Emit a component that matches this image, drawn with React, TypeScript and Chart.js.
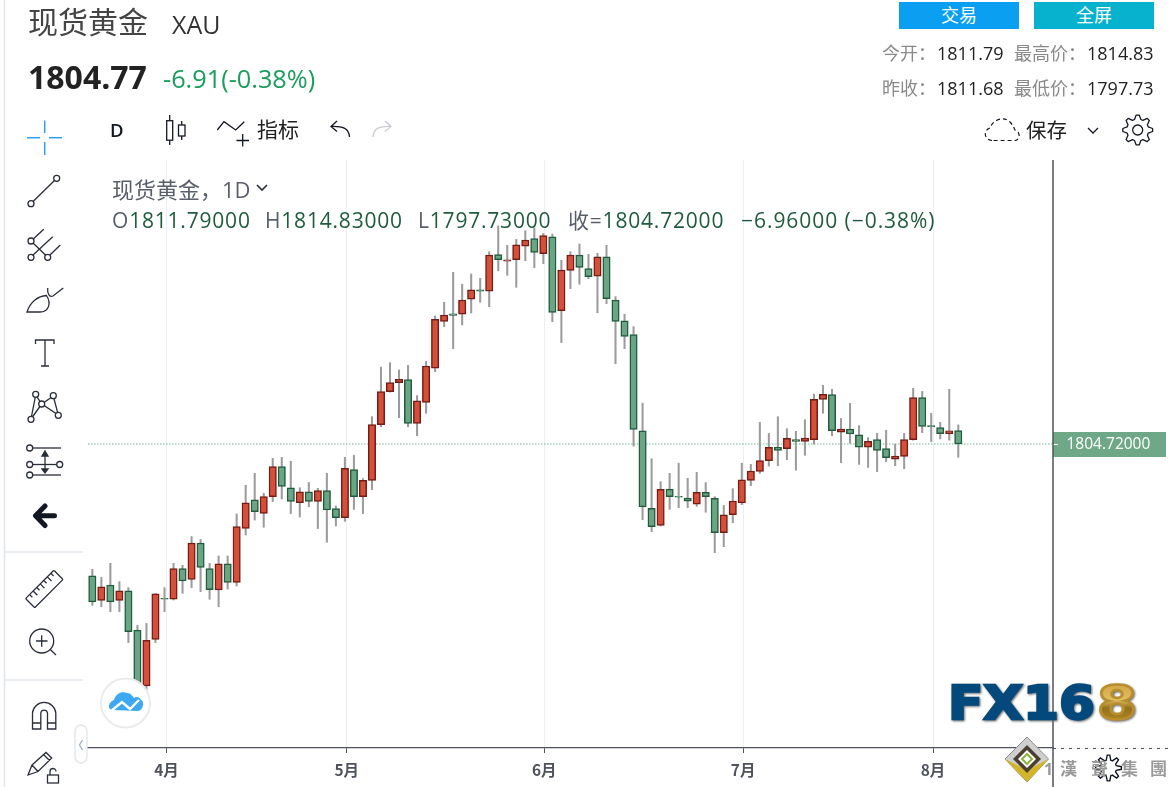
import React, { useEffect, useRef } from "react";
import { Chart, registerables } from "chart.js";

Chart.register(...registerables);

const highs = [1738.8,1734.5,1741.9,1732.3,1729.1,1709.3,1710.3,1726,1729.1,1741.9,1740.9,1756,1754.5,1741.9,1745.8,1745.8,1767.9,1783,1789.3,1778.8,1797.2,1797.7,1795.6,1781.7,1784.5,1781.4,1789.3,1772.1,1797.7,1798.8,1786.5,1819.1,1845.2,1847.5,1843.7,1846.1,1830.2,1848.2,1872.1,1879.3,1895.1,1888.8,1894.2,1891.9,1905.9,1919.5,1909.3,1912.4,1917,1918.4,1915.6,1915.2,1901.4,1905.9,1910,1904.5,1905.1,1909.3,1882.3,1873,1866.5,1826.2,1797,1784.9,1789.3,1794.6,1786.7,1789.8,1784.4,1777,1772.4,1781.2,1794.6,1794,1816.1,1810.3,1819.1,1812.8,1811.4,1817.5,1831,1835.6,1833.5,1818.2,1826.1,1814.4,1808.1,1810.3,1811.9,1804.7,1810.3,1834,1832.4,1820.9,1816.1,1833.5,1814.83];
const opens = [1735.4,1722.4,1730.5,1722.4,1727.4,1706.8,1677.4,1701.9,1723.5,1723.1,1739.1,1733.5,1752.6,1739.1,1727.9,1741.6,1731.9,1760.3,1775.4,1768.2,1777,1792.8,1781.7,1773.8,1779.5,1774.5,1780.2,1770.7,1766,1791.2,1777,1785.6,1814.9,1832.3,1837,1838.6,1815.6,1826.6,1844.7,1869.3,1873.3,1873.1,1881,1885.9,1885.1,1904.4,1901,1901.7,1908.8,1912.8,1904.9,1913.8,1874.9,1896.1,1904.2,1897,1893,1903.3,1880.5,1869.5,1862.3,1811.7,1770.9,1761.9,1781,1777.2,1776.3,1773,1779.3,1776.1,1758.1,1767.5,1773.7,1785.6,1790.3,1796,1803,1802.3,1807,1806.1,1807,1828.2,1830.7,1810.9,1812.6,1809.5,1803,1807,1802.3,1796.7,1798.2,1807,1829.1,1814.4,1813.3,1810.2,1811.79];
const closes = [1721.6,1729.6,1721.6,1727.4,1705.9,1678.4,1701.4,1725.8,1723,1739.1,1732.6,1752.6,1739.8,1728.1,1741.6,1731.9,1761.2,1773.8,1769.1,1777,1792.8,1782.4,1774.5,1779.5,1774.5,1780.2,1770,1766,1791.9,1777,1785.6,1814.9,1832.3,1837,1838.8,1815.6,1827.5,1845.8,1870.3,1872.6,1872.4,1880.5,1885.9,1885.1,1904.2,1901.7,1901.7,1909.6,1912.1,1905.6,1914.4,1874,1896.3,1904.2,1897.7,1892.8,1903.3,1881.2,1869.3,1861.4,1812.4,1771.6,1761.2,1780.9,1777,1776.8,1774.6,1779.3,1777,1758.1,1767.5,1774.7,1785.8,1790.5,1796,1803,1801.4,1807.7,1806.1,1807.9,1828.2,1830.9,1811.7,1812.6,1810,1803,1806.1,1801.4,1797.5,1798.4,1807,1829.1,1814,1813.9,1810.2,1811.7,1804.72];
const lows = [1719.8,1719.1,1716.5,1716.5,1700.2,1676.1,1674.4,1700.2,1716.5,1722.6,1726.1,1729.1,1727,1723,1719.1,1728.4,1730,1756.8,1764.7,1760.9,1774.4,1775.8,1768.1,1766.3,1771.7,1760.2,1753,1761.6,1764,1770.3,1768.1,1780.7,1813.8,1832,1818.6,1813.8,1809.1,1820.9,1842.8,1866.5,1854.9,1867.4,1873.7,1879.3,1877,1895.9,1893.5,1887.2,1901.2,1897.5,1899.6,1869.1,1858.1,1886.5,1888.8,1891.7,1873.8,1878.6,1847,1854.9,1803.6,1764.9,1758.6,1761.6,1770.3,1771.2,1771.2,1771.9,1768.8,1747.5,1750.7,1763.3,1772.8,1782.8,1789.3,1793.1,1793.3,1796.5,1790.9,1798.8,1804.7,1820.9,1809.1,1794.9,1805.1,1794,1792.4,1790.2,1795.4,1793.3,1791.7,1806.7,1810.7,1806,1807.4,1806.7,1797.73];

const monthTicks = [8.22, 28.2, 50.1, 72.15, 93.2];
const monthLabels = ["4月", "5月", "6月", "7月", "8月"];
const lastPrice = 1804.72;
const lastLabel = "1804.72000";

const cjk = "'Open Sans','Noto Sans CJK SC',sans-serif";

type TP = { x: number; y: number; s: number; c?: string; w?: number; children: React.ReactNode; style?: React.CSSProperties };
function T({ x, y, s, c = "#333", w = 400, children, style }: TP) {
  return (
    <div style={{ position: "absolute", left: x, top: y - s * 0.7, fontSize: s, lineHeight: `${s * 1.4}px`, color: c, fontWeight: w, whiteSpace: "pre", fontFamily: cjk, ...style }}>
      {children}
    </div>
  );
}

function gearPath(cx: number, cy: number, r1: number, r2: number, teeth: number) {
  let d = "";
  const n = teeth * 4;
  for (let k = 0; k < n; k++) {
    const a = ((k - 0.5) / n) * Math.PI * 2;
    const r = k % 4 === 0 || k % 4 === 1 ? r1 : r2;
    d += `${k === 0 ? "M" : "L"}${(cx + r * Math.cos(a)).toFixed(1)} ${(cy + r * Math.sin(a)).toFixed(1)}`;
  }
  return d + "Z";
}

function Icons() {
  const ink = "#2a2e39";
  const p = { fill: "none", stroke: ink, strokeWidth: 1.3 } as const;
  return (
    <svg width={1169} height={787} style={{ position: "absolute", left: 0, top: 0, pointerEvents: "none" }}>
      <defs>
        <linearGradient id="gold" x1="0" y1="0" x2="0" y2="1">
          <stop offset="0" stopColor="#c79a35" />
          <stop offset="0.45" stopColor="#e3bd62" />
          <stop offset="0.6" stopColor="#93701c" />
          <stop offset="1" stopColor="#c3962f" />
        </linearGradient>
      </defs>
      {/* frame */}
      <line x1={4.5} y1={0} x2={4.5} y2={787} stroke="#dfe5ec" strokeWidth={1.5} />
      <line x1={5} y1={552} x2={83} y2={552} stroke="#e3e8ee" strokeWidth={1.5} />
      <line x1={5} y1={680} x2={83} y2={680} stroke="#e3e8ee" strokeWidth={1.5} />
      <line x1={1053} y1={160} x2={1053} y2={787} stroke="#50535e" strokeWidth={1.5} />
      <line x1={1053} y1={748.5} x2={1169} y2={748.5} stroke="#50535e" strokeWidth={1} strokeDasharray="3 5" />
      {/* crosshair */}
      <g stroke="#2f9ef0" strokeWidth={1.5}>
        <line x1={44.7} y1={120.5} x2={44.7} y2={133} />
        <line x1={44.7} y1={142} x2={44.7} y2={155} />
        <line x1={27} y1={137.7} x2={40} y2={137.7} />
        <line x1={49} y1={137.7} x2={62} y2={137.7} />
      </g>
      {/* trend line */}
      <g {...p}>
        <line x1={33} y1={201.5} x2={54.5} y2={180.5} />
        <circle cx={31} cy={203.7} r={3} />
        <circle cx={56.7} cy={178.3} r={3} />
      </g>
      {/* pitchfork */}
      <g {...p}>
        <circle cx={31} cy={241} r={3} />
        <circle cx={31} cy={257.3} r={3} />
        <circle cx={47.7} cy={257.3} r={3} />
        <line x1={33.3} y1={239} x2={43.7} y2={229.3} />
        <line x1={32.5} y1={255.5} x2={52.7} y2={236.7} />
        <line x1={50} y1={255} x2={60.3} y2={245} />
        <line x1={33} y1={243} x2={46} y2={255.5} />
      </g>
      {/* brush */}
      <g {...p}>
        <path d="M27 312 C30 302 38 296 46.5 295.5 C52 304 48 312 40 312 Z" />
        <path d="M47.7 288 C47 294 50 297.5 53 296 L63.3 288" />
      </g>
      {/* T */}
      <g {...p}>
        <path d="M35.5 344 V340 H54 V344 M45 340 V366 M41 366 H49" />
      </g>
      {/* pattern */}
      <g {...p}>
        <path d="M31 419 L35.7 395 L41.7 404 L53.3 396 L58.3 415 L41.7 404 L31 419" />
        <circle cx={31} cy={419.3} r={3} fill="#fff" />
        <circle cx={58.3} cy={415.3} r={3} fill="#fff" />
        <circle cx={41.7} cy={404} r={3} fill="#fff" />
        <circle cx={35.7} cy={394.3} r={3} fill="#fff" />
        <circle cx={53.3} cy={395.7} r={3} fill="#fff" />
      </g>
      {/* fib */}
      <g {...p}>
        <line x1={33} y1={448} x2={61} y2={448} />
        <line x1={33} y1={464.5} x2={57} y2={464.5} />
        <line x1={33} y1={475} x2={61} y2={475} />
        <circle cx={29.7} cy={448} r={3} />
        <circle cx={29.7} cy={464.5} r={3} />
        <circle cx={59.7} cy={464.5} r={3} />
        <circle cx={29.7} cy={475} r={3} />
        <line x1={45} y1={453} x2={45} y2={472} />
        <path d="M42 456 L45 451 L48 456 Z M42 469 L45 473 L48 469 Z" fill={ink} />
      </g>
      {/* back arrow */}
      <path d="M54.5 515.7 H36 M45 506 L35.5 515.7 L45 525.5" fill="none" stroke="#131722" strokeWidth={5} strokeLinecap="round" strokeLinejoin="round" />
      {/* ruler */}
      <g {...p} transform="rotate(-45 44.3 589)">
        <rect x={24.3} y={582.5} width={40} height={13} rx={1} />
        <path d="M30 582.5 v4 M35 582.5 v6 M40 582.5 v4 M45 582.5 v6 M50 582.5 v4 M55 582.5 v6 M60 582.5 v4" />
      </g>
      {/* zoom */}
      <g {...p}>
        <circle cx={41.7} cy={641} r={12} />
        <path d="M36 641 H47.5 M41.7 635.2 V646.8 M50.5 649.8 L56 655" />
      </g>
      {/* magnet */}
      <g {...p}>
        <path d="M32.5 729 V713 A11.7 11.7 0 0 1 55.8 713 V729 H47.5 V713 A3.4 3.4 0 0 0 40.8 713 V729 Z" />
        <path d="M32.5 723 H40.8 M47.5 723 H55.8" />
      </g>
      {/* pencil + lock */}
      <g {...p}>
        <path d="M28 775 L32 765 L46 752.5 L51.7 758 L38 771.5 Z M32 765 L38 771.5 M44 755 L49.5 760.5" />
        <rect x={47.5} y={775} width={11} height={8} />
        <path d="M50 775 V771.5 A3 3 0 0 1 56 771.5" />
      </g>
      {/* candle icon */}
      <g {...p} stroke="#131722">
        <rect x={166.7} y={120.7} width={6} height={19.5} />
        <path d="M169.7 115 V120.7 M169.7 140.2 V145" />
        <rect x={178.5} y={125} width={6.5} height={11} />
        <path d="M181.7 121 V125 M181.7 136 V140" />
      </g>
      {/* indicators */}
      <g {...p} stroke="#131722">
        <path d="M217.3 130 L224 121.7 L235.7 130 L244.3 121.7" />
        <path d="M236.5 140.5 H249 M242.7 134 V146.5" />
      </g>
      {/* undo / redo */}
      <path d="M349.5 137 C349 128 342 126 331 126.5 M337 121 L331 126.5 L337 131.5" fill="none" stroke="#131722" strokeWidth={1.3} />
      <path d="M373 137 C373.5 128 380 126 391 126.5 M385 121 L391 126.5 L385 131.5" fill="none" stroke="#c9cbd0" strokeWidth={1.3} />
      {/* save cloud */}
      <path d="M992 140.5 C984 140 983 130 990 128 C992 121 1003 115 1010 122 C1013 125 1014 128 1015 130 C1021 132 1020 140 1015 140.5 Z" fill="none" stroke="#131722" strokeWidth={1.2} strokeDasharray="4 3" />
      {/* chevrons */}
      <path d="M1088 128 L1093 133 L1098 128" fill="none" stroke="#131722" strokeWidth={1.3} />
      <path d="M257 185 L262 190 L267 185" fill="none" stroke="#2a2e39" strokeWidth={1.6} />
      {/* settings */}
      <path d={gearPath(1137.7, 130, 15, 11, 8)} fill="none" stroke="#131722" strokeWidth={1.3} strokeLinejoin="round" />
      <circle cx={1137.7} cy={130} r={5} fill="none" stroke="#131722" strokeWidth={1.3} />
      {/* collapse handle */}
      <rect x={75} y={725} width={12} height={38} rx={6} fill="#fff" stroke="#dfe5ea" strokeWidth={1.3} />
      <path d="M82.5 740 L79.5 745 L82.5 750" fill="none" stroke="#9db0bf" strokeWidth={1.3} />
      {/* cloud badge */}
      <circle cx={125.5} cy={703} r={24.5} fill="#fff" stroke="#ebebeb" strokeWidth={2} />
      <path d="M113 710 C107 710 108 702 114 700 C116 693 122 691 127 693 C130 693 132 695 134 698 C136 696 140 697 141 700 C145 701 143 711 138 711 Z" fill="#3aa9f2" />
      <path d="M111 711 L122 702 L130 709 L139 700" fill="none" stroke="#fff" strokeWidth={2.4} />
      {/* FX168 */}
      <g style={{ filter: "drop-shadow(1px 1px 1px #666)" }}>
        <text x={948} y={719} fontFamily="'DejaVu Sans',sans-serif" fontWeight={700} fontSize={47} fill="#04497c" stroke="#04497c" strokeWidth={2.4} textLength={147} lengthAdjust="spacingAndGlyphs">FX16</text>
        <text x={1097} y={719} fontFamily="'DejaVu Sans',sans-serif" fontWeight={700} fontSize={47} fill="url(#gold)" stroke="#b98f2c" strokeWidth={2.4} textLength={40} lengthAdjust="spacingAndGlyphs">8</text>
      </g>
      {/* diamond */}
      <path d="M1027 737 L1048.5 759 L1027 782 L1005 759 Z" fill="#cfcfcf" stroke="#8d8d8d" />
      <path d="M1005 759 L1027 782 L1048.5 759 L1027 770 Z" fill="#d3b52a" />
      <path d="M1027 745 L1041 759 L1027 773 L1013 759 Z" fill="#4a3f30" />
      <path d="M1027 750 L1036 759 L1027 768 L1018 759 Z" fill="#fff" />
      <path d="M1027 754 L1032 759 L1027 764 L1022 759 Z" fill="none" stroke="#8cb33a" strokeWidth={2} />
      {/* small gear */}
      <path d={gearPath(1108.5, 768, 13, 8, 8)} fill="none" stroke="#131722" strokeWidth={1.4} />
      <circle cx={1108.5} cy={768} r={7} fill="#fff" />
    </svg>
  );
}

export default function App() {
  const ref = useRef<HTMLCanvasElement | null>(null);
  useEffect(() => {
    if (!ref.current) return;
    const xMin = -0.48;
    const xMax = 106.5;
    const tagPlugin = {
      id: "priceTag",
      afterDraw(c: any) {
        const y = c.scales.y.getPixelForValue(lastPrice);
        const ctx = c.ctx;
        ctx.save();
        ctx.fillStyle = "#6fa886";
        ctx.fillRect(1053, y - 12, 113, 25);
        ctx.strokeStyle = "#ffffff";
        ctx.lineWidth = 1;
        ctx.beginPath();
        ctx.moveTo(1053, y + 0.5);
        ctx.lineTo(1058, y + 0.5);
        ctx.stroke();
        ctx.fillStyle = "#fff";
        ctx.font = "500 15.5px 'Open Sans',sans-serif";
        ctx.textBaseline = "middle";
        ctx.textAlign = "left";
        ctx.fillText(lastLabel, 1066.5, y + 1);
        ctx.restore();
      },
    };
    const idx = closes.map((_, i) => i);
    const chart = new Chart(ref.current, {
      type: "bar",
      data: {
        datasets: [
          {
            type: "bar",
            label: "阴线",
            data: idx.filter((i) => closes[i] < opens[i]).map((i) => ({ x: i, y: [closes[i], opens[i]] })),
            backgroundColor: "#6aa685",
            borderColor: "#225c3f",
            borderWidth: 1.5,
            borderSkipped: false,
            barThickness: 7.4,
            order: 1,
          },
          {
            type: "bar",
            label: "阳线",
            data: idx.filter((i) => closes[i] >= opens[i]).map((i) => ({ x: i, y: [opens[i], closes[i]] })),
            backgroundColor: "#d5503b",
            borderColor: "#761c14",
            borderWidth: 1.5,
            borderSkipped: false,
            barThickness: 7.4,
            order: 1,
          },
          {
            type: "bar",
            label: "影线",
            data: idx.map((i) => ({ x: i, y: [lows[i], highs[i]] })),
            backgroundColor: "#9c9c9c",
            borderWidth: 0,
            barThickness: 1.4,
            order: 3,
          },
          {
            type: "line",
            label: "现价",
            data: [
              { x: xMin, y: lastPrice },
              { x: xMax, y: lastPrice },
            ],
            borderColor: "#6fb592",
            borderWidth: 1,
            borderDash: [1.5, 1.5],
            pointRadius: 0,
            order: 2,
          },
        ] as any,
      },
      plugins: [tagPlugin],
      options: {
        animation: false,
        responsive: false,
        devicePixelRatio: 1,
        layout: { padding: { left: 88, top: 160, right: 116, bottom: 0 } },
        plugins: { legend: { display: false }, tooltip: { enabled: false } },
        datasets: { bar: { grouped: false } },
        scales: {
          x: {
            type: "linear",
            offset: false,
            min: xMin,
            max: xMax,
            afterBuildTicks(s: any) {
              s.ticks = monthTicks.map((value) => ({ value }));
            },
            afterFit(s: any) {
              s.height = 39;
            },
            grid: { offset: false, color: "#e8f0f5", tickColor: "#50535e", tickLength: 5, lineWidth: 1 },
            border: { color: "#50535e", width: 1.2 },
            ticks: {
              autoSkip: false,
              maxRotation: 0,
              padding: 8,
              color: "#50535e",
              font: { family: "'Noto Sans CJK SC'", size: 15.5, weight: "bold" },
              callback: (_v: any, i: number) => monthLabels[i],
            },
          },
          y: {
            display: false,
            min: 1644.72,
            max: 1954.2,
          },
        },
      } as any,
    });
    return () => chart.destroy();
  }, []);

  const grey = "#8a8a8a";
  const leg = "#5a5f6b";
  const grn = "#1f5c3f";
  const ls = { letterSpacing: 0.8 };
  return (
    <div style={{ position: "fixed", left: 0, top: 0, width: 1169, height: 787, overflow: "hidden", background: "#fff" }}>
      <canvas ref={ref} width={1169} height={787} style={{ position: "absolute", left: 0, top: 0, display: "block" }} />
      <Icons />
      <T x={28} y={22} s={30} c="#444">现货黄金</T>
      <T x={172} y={24} s={25} c="#333">XAU</T>
      <T x={28} y={77} s={32} c="#222" w={700}>1804.77</T>
      <T x={163} y={79} s={25.3} c="#1a9e5c">-6.91(-0.38%)</T>
      <div style={{ position: "absolute", left: 899, top: 2, width: 120, height: 27, background: "#0a9ff0", color: "#fff", fontSize: 18, lineHeight: "27px", textAlign: "center", fontFamily: cjk }}>交易</div>
      <div style={{ position: "absolute", left: 1034, top: 2, width: 120, height: 27, background: "#07b2cf", color: "#fff", fontSize: 18, lineHeight: "27px", textAlign: "center", fontFamily: cjk }}>全屏</div>
      <T x={882} y={54} s={18} c={grey}>今开：</T>
      <T x={937} y={54} s={18} c="#222">1811.79</T>
      <T x={1014} y={54} s={18} c={grey}>最高价：</T>
      <T x={1087} y={54} s={18} c="#222">1814.83</T>
      <T x={882} y={89} s={18} c={grey}>昨收：</T>
      <T x={937} y={89} s={18} c="#222">1811.68</T>
      <T x={1014} y={89} s={18} c={grey}>最低价：</T>
      <T x={1087} y={89} s={18} c="#222">1797.73</T>
      <T x={110} y={130} s={18.5} c="#131722" w={600}>D</T>
      <T x={257} y={130} s={21} c="#222">指标</T>
      <T x={1026} y={130} s={20.5} c="#222">保存</T>
      <T x={112} y={189} s={22} c={leg}>现货黄金，1D</T>
      <T x={112} y={221} s={21} c={grn} style={ls}>
        <span style={{ color: leg }}>O</span>1811.79000
      </T>
      <T x={265} y={221} s={21} c={grn} style={ls}>
        <span style={{ color: leg }}>H</span>1814.83000
      </T>
      <T x={418} y={221} s={21} c={grn} style={ls}>
        <span style={{ color: leg }}>L</span>1797.73000
      </T>
      <T x={568} y={221} s={21} c={grn} style={ls}>
        <span style={{ color: leg }}>收=</span>1804.72000
      </T>
      <T x={741} y={221} s={21} c={grn} style={{ letterSpacing: 0.95 }}>−6.96000 (−0.38%)</T>
      <T x={1044} y={769} s={16} c="#999" w={700}>1</T>
      <T x={1060} y={769} s={17} c="#999" w={700}>漢</T>
      <T x={1091} y={769} s={17} c="#999" w={700}>聲</T>
      <T x={1121} y={769} s={17} c="#999" w={700}>集</T>
      <T x={1150} y={769} s={17} c="#999" w={700}>團</T>
    </div>
  );
}
